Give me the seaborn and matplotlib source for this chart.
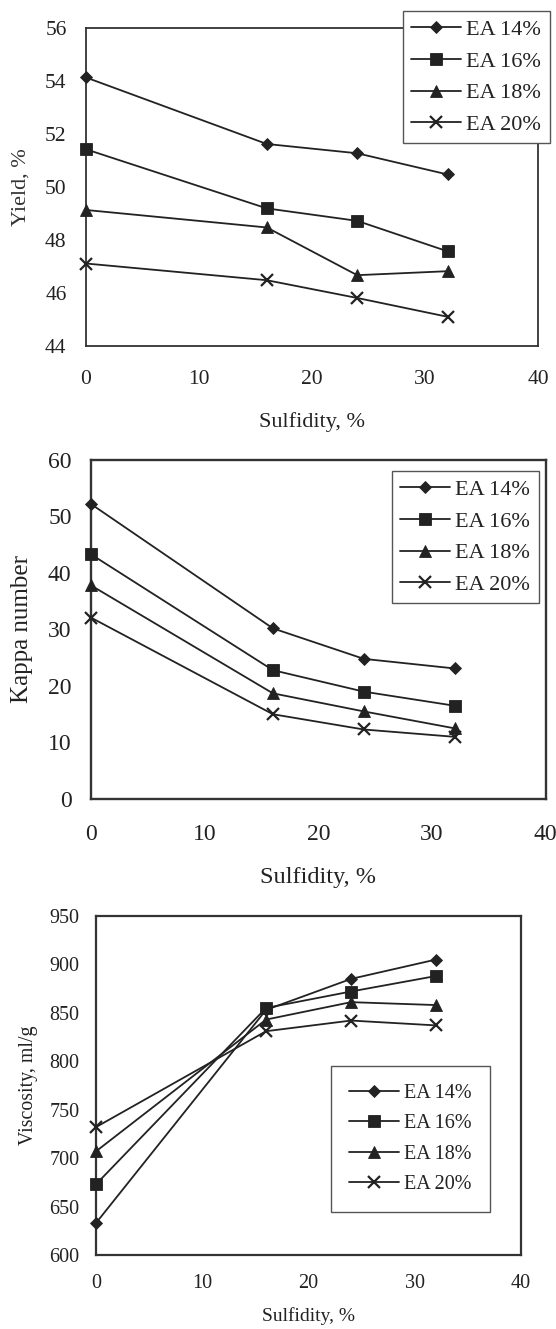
import numpy as np
import pandas as pd
import seaborn as sns
import matplotlib.pyplot as plt

# Sulfidity levels (x) and effective alkali charges (series)
sulfidity = [0, 16, 24, 32]
ea_labels = ['EA 14%', 'EA 16%', 'EA 18%', 'EA 20%']

# Yield, %
yield_14 = [54.13, 51.62, 51.27, 50.47]
yield_16 = [51.42, 49.19, 48.72, 47.57]
yield_18 = [49.13, 48.47, 46.67, 46.82]
yield_20 = [47.11, 46.48, 45.81, 45.10]

# Kappa number
kappa_14 = [52.2, 30.2, 24.8, 23.1]
kappa_16 = [43.3, 22.8, 19.0, 16.5]
kappa_18 = [37.8, 18.7, 15.5, 12.5]
kappa_20 = [32.1, 15.0, 12.3, 11.0]

# Viscosity, ml/g
visc_14 = [633, 853, 885, 905]
visc_16 = [673, 855, 872, 888]
visc_18 = [707, 843, 861, 858]
visc_20 = [732, 831, 842, 837]

markers = ['D', 's', '^', 'x']
msizes = [6, 8, 8.5, 8]
LINE = '#222222'


def long_df(series, name):
    rows = []
    for lab, vals in zip(ea_labels, series):
        for x, v in zip(sulfidity, vals):
            rows.append({'Sulfidity': x, name: v, 'EA': lab})
    return pd.DataFrame(rows)


def draw_panel(ax, df, name, tick_fs):
    for lab, m, ms in zip(ea_labels, markers, msizes):
        sub = df[df['EA'] == lab]
        sns.lineplot(data=sub, x='Sulfidity', y=name, ax=ax, label=lab,
                     color=LINE, marker=m, markersize=ms, linewidth=1.3,
                     markeredgewidth=1.6 if m == 'x' else 0.6,
                     markeredgecolor=LINE, markerfacecolor=LINE,
                     clip_on=False, zorder=3)
    for s in ax.spines.values():
        s.set_color('#333333')
        s.set_linewidth(1.3)
    ax.tick_params(direction='inout', length=8, width=0.8, color='#888888',
                   labelsize=tick_fs, labelcolor='#222222')
    ax.set_xlim(0, 40)
    ax.set_xticks([0, 10, 20, 30, 40])


sns.set_style('white')
plt.rcParams['font.family'] = ['Liberation Serif', 'DejaVu Serif']

fig = plt.figure(figsize=(5.56, 13.29), dpi=100)

# ---- panel 1: yield
ax1 = fig.add_axes([0.1547, 0.7397, 0.8129, 0.2393])
df1 = long_df([yield_14, yield_16, yield_18, yield_20], 'Yield')
draw_panel(ax1, df1, 'Yield', 15.5)
ax1.set_ylim(44, 56)
ax1.set_yticks(np.arange(44, 57, 2))
ax1.tick_params(axis='x', pad=13)
ax1.tick_params(axis='y', pad=10)
ax1.set_xlabel('Sulfidity, %', fontsize=16, color='#222222', va='center')
ax1.set_ylabel('Yield, %', fontsize=16, color='#333333', va='center')
ax1.xaxis.set_label_coords(0.5, -0.239)
ax1.yaxis.set_label_coords(-0.1438, 0.5)

# ---- panel 2: kappa
ax2 = fig.add_axes([0.1637, 0.3988, 0.8178, 0.2551])
df2 = long_df([kappa_14, kappa_16, kappa_18, kappa_20], 'Kappa')
draw_panel(ax2, df2, 'Kappa', 17)
ax2.set_ylim(0, 60)
ax2.set_yticks(np.arange(0, 61, 10))
for s in ax2.spines.values():
    s.set_linewidth(1.7)
ax2.tick_params(axis='x', pad=14)
ax2.tick_params(axis='y', pad=10)
ax2.set_xlabel('Sulfidity, %', fontsize=17.5, color='#222222', va='center')
ax2.set_ylabel('Kappa number', fontsize=18, color='#222222', va='center')
ax2.xaxis.set_label_coords(0.5, -0.233)
ax2.yaxis.set_label_coords(-0.1518, 0.5)

# ---- panel 3: viscosity
ax3 = fig.add_axes([0.1727, 0.0557, 0.7644, 0.2551])
df3 = long_df([visc_14, visc_16, visc_18, visc_20], 'Viscosity')
draw_panel(ax3, df3, 'Viscosity', 14.5)
ax3.set_ylim(600, 950)
ax3.set_yticks(np.arange(600, 951, 50))
for s in ax3.spines.values():
    s.set_linewidth(1.6)
ax3.tick_params(direction='inout', length=10, color='#444444')
ax3.tick_params(axis='x', pad=9)
ax3.tick_params(axis='y', pad=7)
ax3.set_xlabel('Sulfidity, %', fontsize=14, color='#222222', va='center')
ax3.set_ylabel('Viscosity, ml/g', fontsize=14.3, color='#222222', va='center')
ax3.xaxis.set_label_coords(0.5, -0.18)
ax3.yaxis.set_label_coords(-0.16, 0.5)

# legends
leg_opts = dict(loc='upper left', frameon=True, fancybox=False, framealpha=1,
                facecolor='white', edgecolor='#555555', borderaxespad=0,
                bbox_transform=fig.transFigure)
l1 = ax1.legend(bbox_to_anchor=(0.7248, 0.9917), fontsize=16, borderpad=0.38,
                handlelength=2.25, handletextpad=0.22, labelspacing=0.5, **leg_opts)
l2 = ax2.legend(bbox_to_anchor=(0.7050, 0.6456), fontsize=16, borderpad=0.38,
                handlelength=2.25, handletextpad=0.22, labelspacing=0.5, **leg_opts)
l3 = ax3.legend(bbox_to_anchor=(0.5953, 0.1979), fontsize=14.5, borderpad=0.9,
                handlelength=2.5, handletextpad=0.25, labelspacing=0.55, **leg_opts)
for lg in (l1, l2, l3):
    lg.get_frame().set_linewidth(1.0)
    lg.set_zorder(5)
    for t in lg.get_texts():
        t.set_color('#222222')

fig.savefig('out.png', dpi=100)
